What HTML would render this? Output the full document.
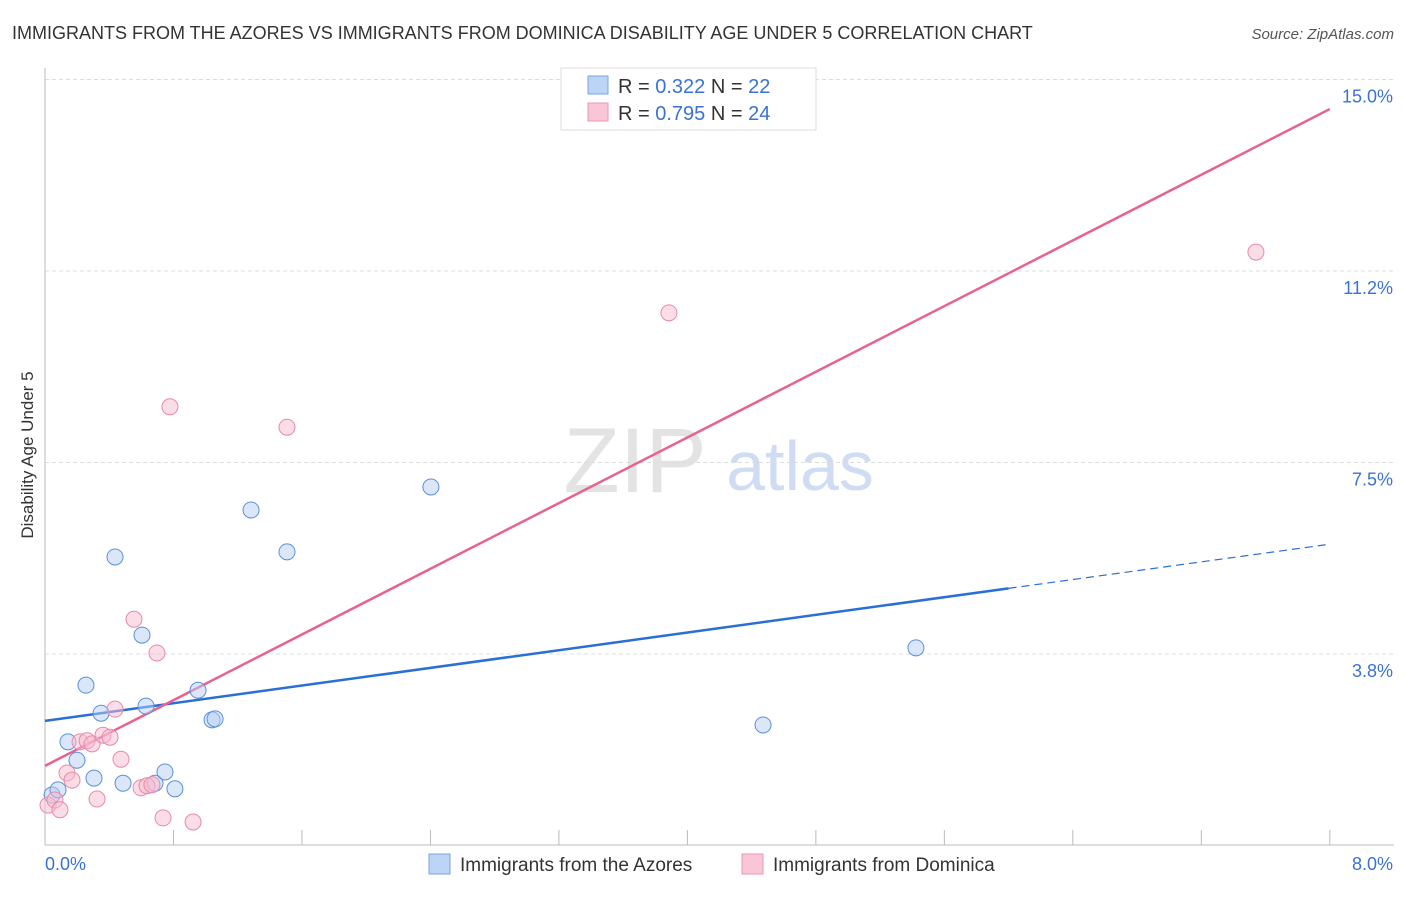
<!DOCTYPE html>
<html><head><meta charset="utf-8"><style>
body{margin:0;background:#fff;font-family:"Liberation Sans",sans-serif;}
svg text{font-family:"Liberation Sans",sans-serif;}
</style></head><body>
<svg id="chart" width="1406" height="892" xmlns="http://www.w3.org/2000/svg">
<text x="12" y="39" font-size="18" fill="#333">IMMIGRANTS FROM THE AZORES VS IMMIGRANTS FROM DOMINICA DISABILITY AGE UNDER 5 CORRELATION CHART</text>
<text x="1394" y="39" font-size="15" fill="#555" font-style="italic" text-anchor="end">Source: ZipAtlas.com</text>
<text x="33" y="455" font-size="17" fill="#333" text-anchor="middle" transform="rotate(-90 33 455)">Disability Age Under 5</text>
<g><text x="635" y="492" font-size="92" fill="#ddd" text-anchor="middle" font-family="Liberation Serif" opacity="0.8">ZIP</text><text x="800" y="490" font-size="70" fill="#cfdcf3" text-anchor="middle">atlas</text></g>
<g id="grid"></g><g id="axes"></g><g id="lines"></g><g id="points"></g>
<g>
<rect x="561" y="68" width="255" height="62" fill="#fff" stroke="#ddd"/>
<rect x="588" y="76" width="20" height="18" fill="#bcd4f5" stroke="#7aa5e0"/>
<rect x="588" y="103" width="20" height="18" fill="#f8c6d6" stroke="#ea95b2"/>
<text x="618" y="93" font-size="20" fill="#333">R = <tspan fill="#3a72d4">0.322</tspan>   N = <tspan fill="#3a72d4">22</tspan></text>
<text x="618" y="120" font-size="20" fill="#333">R = <tspan fill="#3a72d4">0.795</tspan>   N = <tspan fill="#3a72d4">24</tspan></text>
</g>
<g>
<rect x="429" y="854" width="21" height="20" fill="#bcd4f5" stroke="#7aa5e0"/>
<text x="460" y="871" font-size="19" fill="#333">Immigrants from the Azores</text>
<rect x="742" y="854" width="21" height="20" fill="#f8c6d6" stroke="#ea95b2"/>
<text x="773" y="871" font-size="19" fill="#333">Immigrants from Dominica</text>
</g>
</svg>
<script>
const xTicks=[0,1,2,3,4,5,6,7,8];
const yTicks=[3.75,7.5,11.25,15];
const yTickLabels=["3.8%","7.5%","11.2%","15.0%"];
const azoresX=[0.044,0.081,0.143,0.199,0.255,0.305,0.349,0.436,0.486,0.604,0.629,0.685,0.747,0.809,0.953,1.040,1.059,1.283,1.507,2.403,5.423,4.471];
const azoresY=[0.99,1.09,2.03,1.67,3.14,1.32,2.59,5.65,1.22,4.12,2.73,1.22,1.44,1.11,3.04,2.46,2.48,6.57,5.75,7.02,3.87,2.36];
const dominicaX=[0.019,0.062,0.093,0.137,0.168,0.218,0.262,0.293,0.324,0.361,0.405,0.436,0.473,0.554,0.598,0.635,0.666,0.697,0.735,0.778,0.922,1.507,3.885,7.540];
const dominicaY=[0.79,0.89,0.70,1.42,1.28,2.03,2.05,1.99,0.91,2.16,2.12,2.67,1.69,4.43,1.13,1.17,1.19,3.77,0.54,8.59,0.46,8.19,10.43,11.62];
const azoresTrend=[2.44,5.90];
const dominicaTrend=[1.56,14.42];
const NS="http://www.w3.org/2000/svg";
const X=v=>45+v*160.6, Y=v=>845.5-v*51.07;
function mk(tag,attrs,parent){const e=document.createElementNS(NS,tag);for(const k in attrs)e.setAttribute(k,attrs[k]);document.getElementById(parent).appendChild(e);return e;}
yTicks.forEach((t,i)=>{
 const g=mk('line',{x1:45,x2:1394,y1:Y(t),y2:Y(t),stroke:'#ddd','stroke-dasharray':'4,3'},'grid');
 
 
 const l=mk('text',{x:1393,y:Y(t)+23,'font-size':18,fill:'#3a72d4','text-anchor':'end'},'grid');
 l.textContent=yTickLabels[i];
 
 
});
const ax=mk('line',{x1:45,x2:1394,y1:845,y2:845,stroke:'#bbb'},'axes');


const ay=mk('line',{x1:45,x2:45,y1:68,y2:845,stroke:'#bbb'},'axes');


for(let v=0;v<=8;v+=0.8){const t=mk('line',{x1:X(v),x2:X(v),y1:830,y2:845,stroke:'#bbb'},'axes');
 
 }
const l0=mk('text',{x:45,y:870,'font-size':18,fill:'#3a72d4'},'axes');l0.textContent=xTicks[0].toFixed(1)+'%';


const l8=mk('text',{x:1393,y:870,'font-size':18,fill:'#3a72d4','text-anchor':'end'},'axes');l8.textContent=xTicks[8].toFixed(1)+'%';


function pts(xs,ys,fill,stroke,name){xs.forEach((x,i)=>{const c=mk('circle',{cx:X(x),cy:Y(ys[i]),r:8,fill:fill,'fill-opacity':0.5,stroke:stroke,'stroke-width':1},'points');
 
 });}
pts(azoresX,azoresY,'#b7d0f4','#5b8fdc','azores-point');
pts(dominicaX,dominicaY,'#f7bcd0','#e78aa9','dominica-point');
const bx=6.0, by=azoresTrend[0]+(azoresTrend[1]-azoresTrend[0])*bx/8;
const b1=mk('line',{x1:X(0),y1:Y(azoresTrend[0]),x2:X(bx),y2:Y(by),stroke:'#2a6fd6','stroke-width':2.5},'lines');


const b2=mk('line',{x1:X(bx),y1:Y(by),x2:X(8),y2:Y(azoresTrend[1]),stroke:'#2a6fd6','stroke-width':1.2,'stroke-dasharray':'8,5'},'lines');


const p1=mk('line',{x1:X(0),y1:Y(dominicaTrend[0]),x2:X(8),y2:Y(dominicaTrend[1]),stroke:'#e8628f','stroke-width':2.5},'lines');


</script>
</body></html>
